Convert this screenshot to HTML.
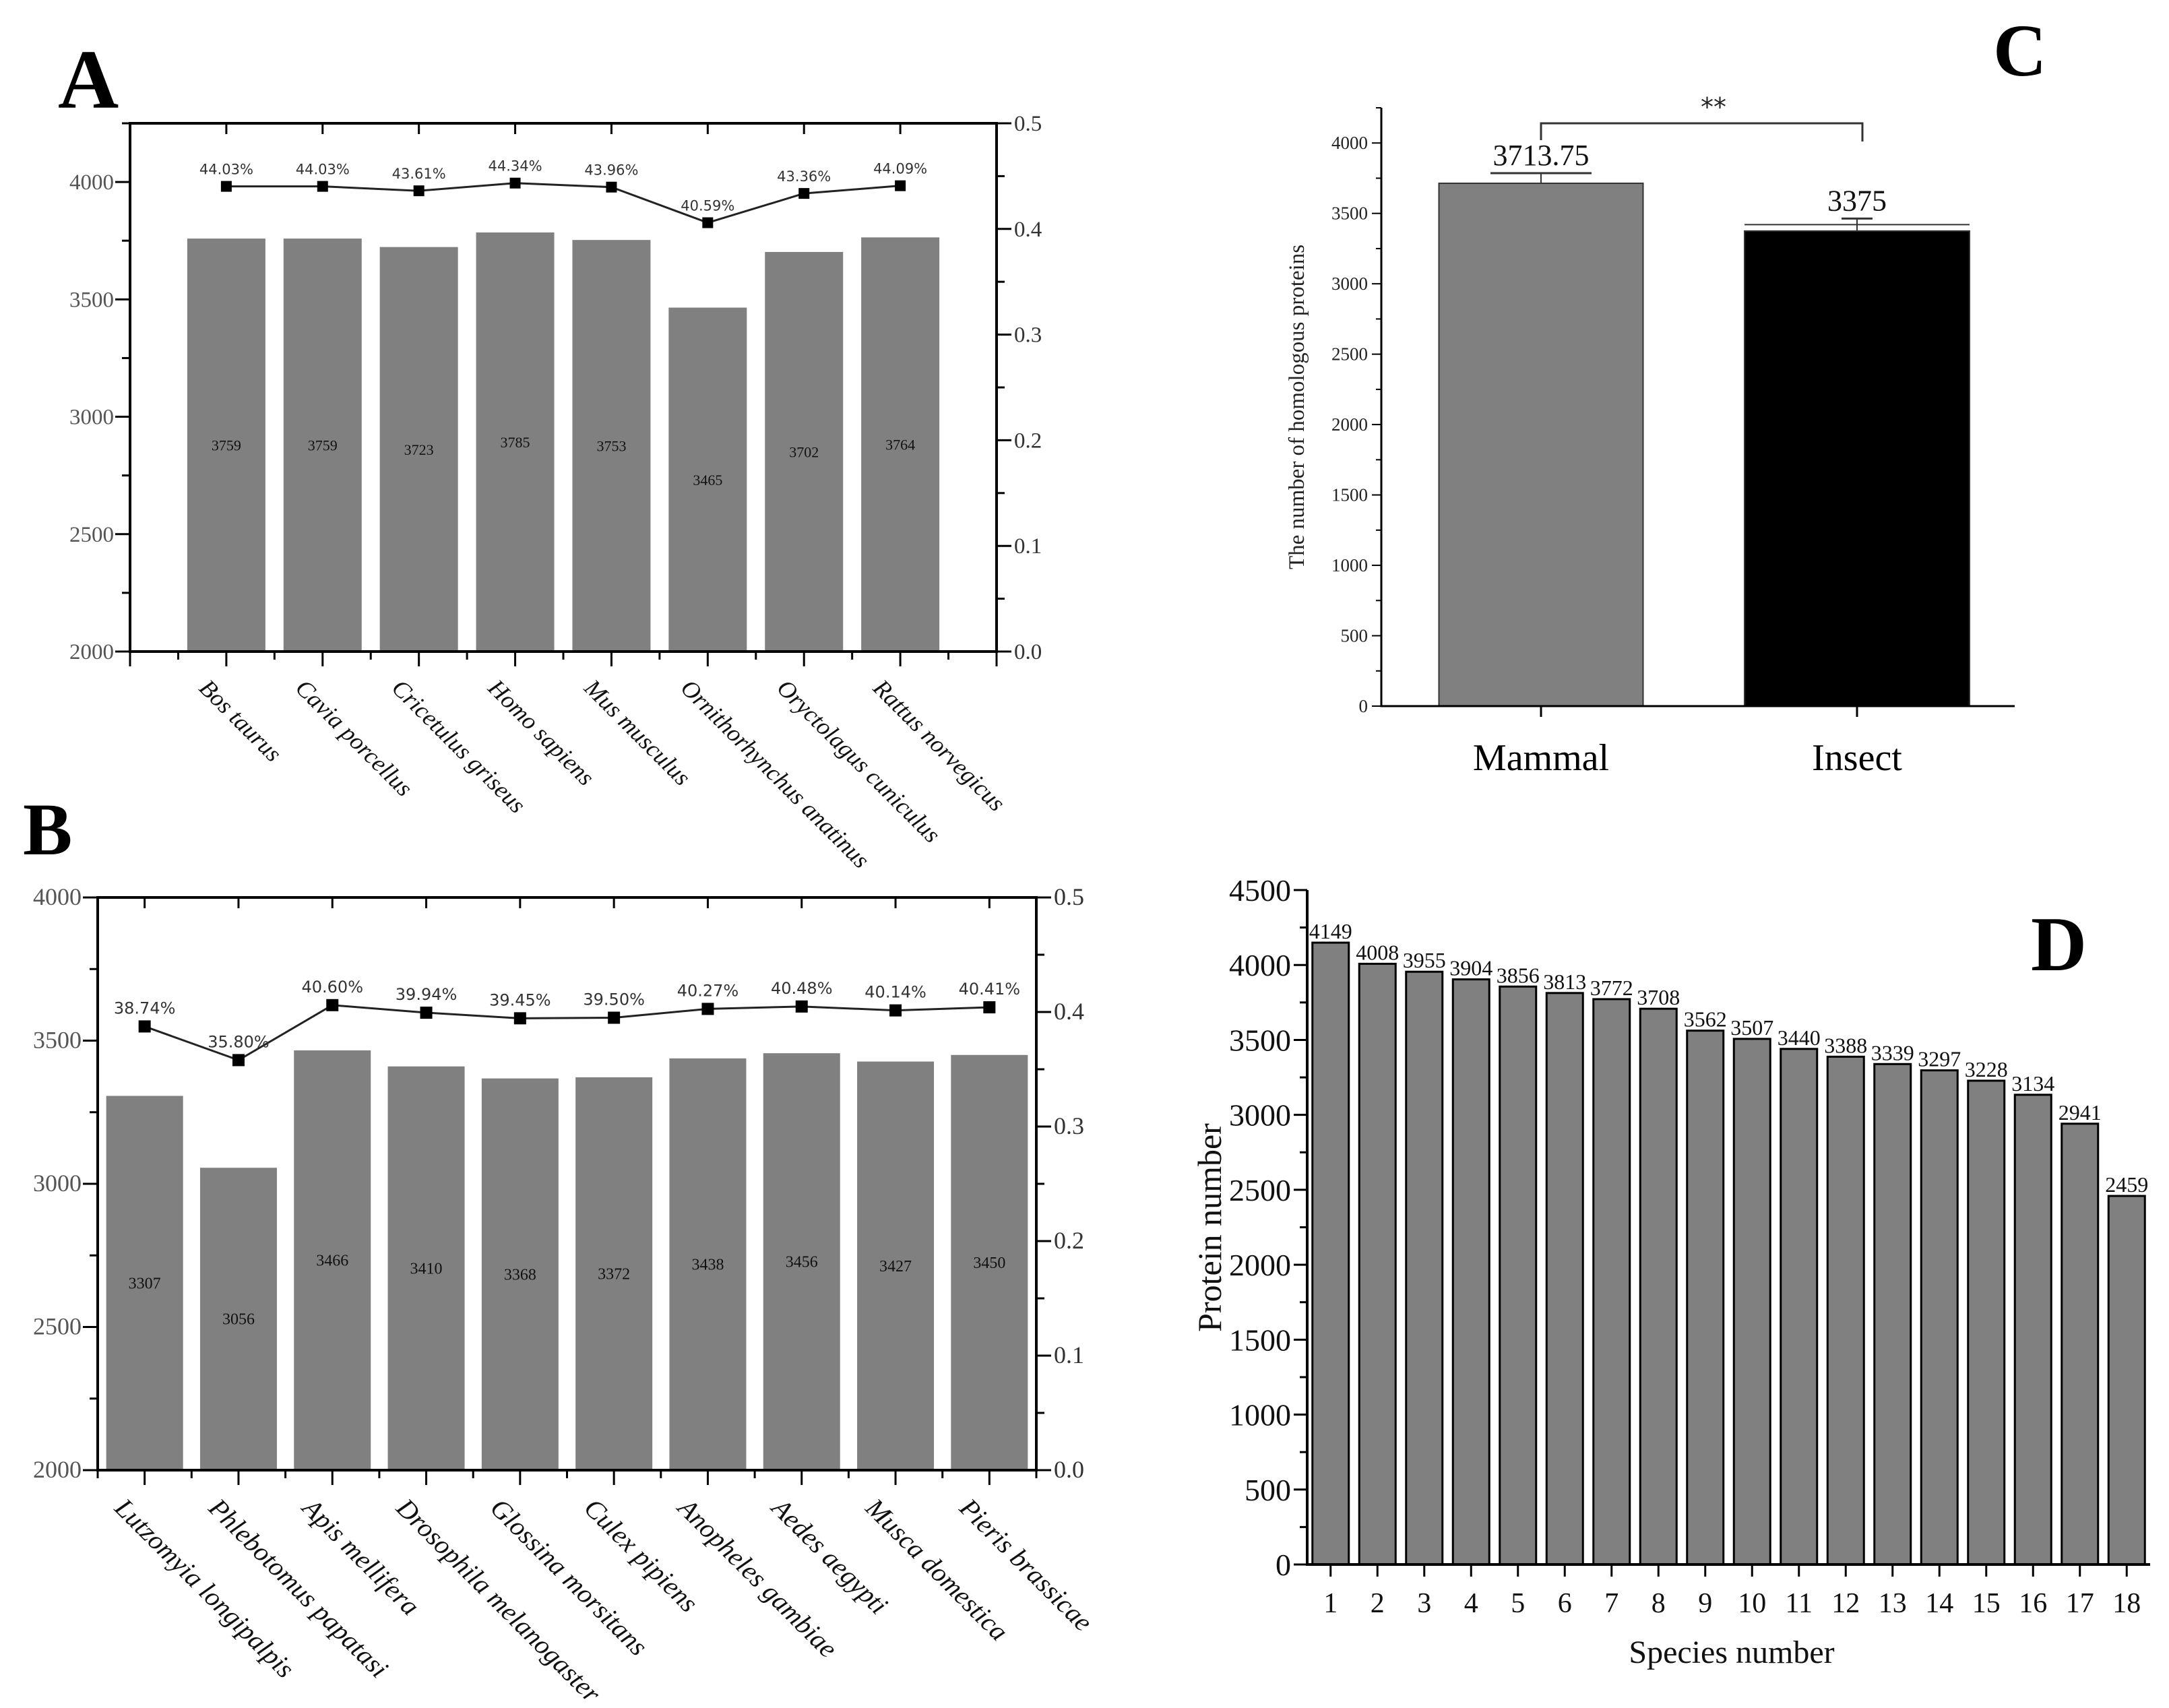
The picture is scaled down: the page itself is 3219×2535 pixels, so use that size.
<!DOCTYPE html>
<html><head><meta charset="utf-8"><style>
html,body{margin:0;padding:0;background:#fff;}
svg{display:block;}
</style></head>
<body>
<svg id="fig" xmlns="http://www.w3.org/2000/svg" width="3219" height="2535" viewBox="0 0 3219 2535">
<rect x="0" y="0" width="3219" height="2535" fill="#fff"/>
<text x="86" y="160" font-family="Liberation Serif, serif" font-weight="bold" font-size="125">A</text>
<text x="34" y="1268" font-family="Liberation Serif, serif" font-weight="bold" font-size="110">B</text>
<text x="2958" y="112" font-family="Liberation Serif, serif" font-weight="bold" font-size="110">C</text>
<text x="3014" y="1440" font-family="Liberation Serif, serif" font-weight="bold" font-size="115">D</text>
</svg>
<script>
const catsA = ["Bos taurus","Cavia porcellus","Cricetulus griseus","Homo sapiens","Mus musculus","Ornithorhynchus anatinus","Oryctolagus cuniculus","Rattus norvegicus"];
const valsA = [3759,3759,3723,3785,3753,3465,3702,3764];
const pctA = [44.03,44.03,43.61,44.34,43.96,40.59,43.36,44.09];
const leftTicksA = [2000,2500,3000,3500,4000];
const rightTicksAB = [0.0,0.1,0.2,0.3,0.4,0.5];

const catsB = ["Lutzomyia longipalpis","Phlebotomus papatasi","Apis mellifera","Drosophila melanogaster","Glossina morsitans","Culex pipiens","Anopheles gambiae","Aedes aegypti","Musca domestica","Pieris brassicae"];
const valsB = [3307,3056,3466,3410,3368,3372,3438,3456,3427,3450];
const pctB = [38.74,35.80,40.60,39.94,39.45,39.50,40.27,40.48,40.14,40.41];
const leftTicksB = [2000,2500,3000,3500,4000];

const catsC = ["Mammal","Insect"];
const valsC = [3713.75,3375];
const errC = [72,88];
const labelsC = ["3713.75","3375"];
const ticksC = [0,500,1000,1500,2000,2500,3000,3500,4000];

const catsD = ["1","2","3","4","5","6","7","8","9","10","11","12","13","14","15","16","17","18"];
const valsD = [4149,4008,3955,3904,3856,3813,3772,3708,3562,3507,3440,3388,3339,3297,3228,3134,2941,2459];
const ticksD = [0,500,1000,1500,2000,2500,3000,3500,4000,4500];

const svg = document.getElementById('fig');
const NS = 'http://www.w3.org/2000/svg';
function mk(tag, attrs, txt){
  const e = document.createElementNS(NS, tag);
  for (const k in attrs) e.setAttribute(k, attrs[k]);
  if (txt !== undefined) e.textContent = txt;
  svg.appendChild(e);
  return e;
}
function line(x1,y1,x2,y2,w,c){
  return mk('line',{x1:x1,y1:y1,x2:x2,y2:y2,stroke:c||'#000','stroke-width':w||3});
}
const SERIF = 'Liberation Serif, serif';
const SANS = 'DejaVu Sans, Liberation Sans, sans-serif';

function dualPanel(p){
  const xs = i => p.x0 + (i + p.off) * p.slot;
  const yL = v => p.y1 - (v - p.lmin) / (p.lmax - p.lmin) * (p.y1 - p.y0);
  const yR = v => p.y1 - v / 0.5 * (p.y1 - p.y0);
  p.vals.forEach((v,i)=>{
    const b = mk('rect',{x:xs(i)-p.bw/2, y:yL(v), width:p.bw, height:p.y1-yL(v), fill:'#808080'});
    
    
    const t = mk('text',{x:xs(i), y:yL((v+p.lmin)/2)+8, 'text-anchor':'middle', 'font-family':SERIF, 'font-size':p.vfs, fill:'#111'}, String(v));
    
    
  });
  const box = mk('rect',{x:p.x0,y:p.y0,width:p.x1-p.x0,height:p.y1-p.y0,fill:'none',stroke:'#000','stroke-width':4});
  
  
  for (let v=p.lmin; v<=p.lmax+1; v+=250){
    const major = (v % 500) === 0;
    line(p.x0 - (major?22:12), yL(v), p.x0, yL(v), 3);
  }
  p.lticks.forEach(v=>{
    const t = mk('text',{x:p.x0-24, y:yL(v)+11, 'text-anchor':'end','font-family':SERIF,'font-size':p.tfs,fill:'#555'}, String(v));
    
    
  });
  for (let k=0;k<=10;k++){
    const v = k*0.05;
    const major = k%2===0;
    line(p.x1, yR(v), p.x1 + (major?22:12), yR(v), 3);
  }
  p.rticks.forEach(v=>{
    const t = mk('text',{x:p.x1+26, y:yR(v)+11,'font-family':SERIF,'font-size':p.tfs,fill:'#333'}, v.toFixed(1));
    
    
  });
  for (let k=0;k<=p.nslots*2;k++){
    const x = p.x0 + k*p.slot/2;
    const isCat = Math.abs(((k/2) - p.off) - Math.round((k/2) - p.off)) < 0.01;
    line(x, p.y1, x, p.y1 + (isCat?22:12), 3);
    if (isCat) line(x, p.y0, x, p.y0 + 16, 3);
  }
  p.cats.forEach((c,i)=>{
    const x = xs(i) - p.lblDx, y = p.y1 + p.lblDy;
    const t = mk('text',{x:x, y:y, transform:'rotate(45 '+x+' '+y+')','font-family':SERIF,'font-style':'italic','font-size':p.cfs,fill:'#111','dominant-baseline':'hanging'}, c);
    
    
  });
  const pts = p.pct.map((v,i)=> xs(i)+','+yR(v/100)).join(' ');
  const pl = mk('polyline',{points:pts, fill:'none', stroke:'#222','stroke-width':3});
  
  
  p.pct.forEach((v,i)=>{
    const m = mk('rect',{x:xs(i)-p.ms/2, y:yR(v/100)-p.ms/2, width:p.ms, height:p.ms, fill:'#000'});
    
    
    const t = mk('text',{x:xs(i), y:yR(v/100)-p.ms/2-10,'text-anchor':'middle','font-family':SANS,'font-size':p.pfs,fill:'#333'}, v.toFixed(2)+'%');
    
    
  });
}

dualPanel({id:'panel-a', x0:193, x1:1479, y0:183, y1:967, lmin:2000, lmax:4250, slot:(1479-193)/9, off:1, nslots:9, bw:116,
  vals:valsA, pct:pctA, cats:catsA, lticks:leftTicksA, rticks:rightTicksAB, vfs:22, tfs:33, cfs:36, pfs:21, ms:16, lblDx:24, lblDy:38});
dualPanel({id:'panel-b', x0:145, x1:1538, y0:1332, y1:2182, lmin:2000, lmax:4000, slot:(1538-145)/10, off:0.5, nslots:10, bw:114,
  vals:valsB, pct:pctB, cats:catsB, lticks:leftTicksB, rticks:rightTicksAB, vfs:24, tfs:36, cfs:40, pfs:24, ms:18, lblDx:26, lblDy:38});

(function(){
  const x0=2050, x1=2990, y0=160, y1=1048, ymax=4250;
  const yC = v => y1 - v/ymax*(y1-y0);
  const centers = [2287, 2756];
  const widths = [303, 334];
  const fills = ['#808080','#000'];
  valsC.forEach((v,i)=>{
    const b = mk('rect',{x:centers[i]-widths[i]/2, y:yC(v), width:widths[i], height:y1-yC(v), fill:fills[i], stroke:'#333','stroke-width':2});
    
    
    const top = yC(v+errC[i]);
    line(centers[i], yC(v), centers[i], top, 2, '#333');
    const cw = i===0 ? 150 : 46;
    line(centers[i]-cw/2, top, centers[i]+cw/2, top, 3, '#333');
    const t = mk('text',{x:centers[i], y:top-12,'text-anchor':'middle','font-family':SERIF,'font-size':44,fill:'#111'}, labelsC[i]);
    
    
    const xl = mk('text',{x:centers[i], y:1143,'text-anchor':'middle','font-family':SERIF,'font-size':56,fill:'#000'}, catsC[i]);
    
    
    line(centers[i], y1, centers[i], y1+16, 3);
  });
  line(centers[1]-widths[1]/2, yC(3420), centers[1]+widths[1]/2, yC(3420), 2, '#333');
  const ax = mk('path',{d:'M'+x0+' '+y0+' L'+x0+' '+y1+' L'+x1+' '+y1, fill:'none', stroke:'#000','stroke-width':3});
  
  
  for (let v=0; v<=4250; v+=250){
    const major = v%500===0;
    line(x0-(major?14:8), yC(v), x0, yC(v), 2);
  }
  ticksC.forEach(v=>{
    const t = mk('text',{x:x0-20, y:yC(v)+9,'text-anchor':'end','font-family':SERIF,'font-size':27,fill:'#222'}, String(v));
    
    
  });
  const yt = mk('text',{x:1935, y:604, transform:'rotate(-90 1935 604)','text-anchor':'middle','font-family':SERIF,'font-size':33,fill:'#222'}, 'The number of homologous proteins');
  
  
  const br = mk('path',{d:'M2287 208 L2287 183 L2764 183 L2764 210', fill:'none', stroke:'#333','stroke-width':3});
  
  
  const st = mk('text',{x:2543, y:172,'text-anchor':'middle','font-family':SANS,'font-size':38,fill:'#222'}, '**');
  
  
})();

(function(){
  const x0=1940, y0=1321, y1=2322, ymax=4500, slot=69.5;
  const x1 = x0 + slot*catsD.length;
  const yD = v => y1 - v/ymax*(y1-y0);
  const xD = i => x0 + (i+0.5)*slot;
  valsD.forEach((v,i)=>{
    const b = mk('rect',{x:xD(i)-27, y:yD(v), width:54, height:y1-yD(v), fill:'#808080', stroke:'#000','stroke-width':3});
    
    
    const t = mk('text',{x:xD(i), y:yD(v)-6,'text-anchor':'middle','font-family':SERIF,'font-size':32,fill:'#111'}, String(v));
    
    
    line(xD(i), y1, xD(i), y1+18, 3);
    const xl = mk('text',{x:xD(i), y:2393,'text-anchor':'middle','font-family':SERIF,'font-size':42,fill:'#111'}, catsD[i]);
    
    
  });
  const ax = mk('path',{d:'M'+x0+' '+y0+' L'+x0+' '+y1+' L'+x1+' '+y1, fill:'none', stroke:'#000','stroke-width':4});
  
  
  for (let v=0; v<=4500; v+=250){
    const major = v%500===0;
    line(x0-(major?20:11), yD(v), x0, yD(v), 3);
  }
  ticksD.forEach(v=>{
    const t = mk('text',{x:x0-24, y:yD(v)+16,'text-anchor':'end','font-family':SERIF,'font-size':46,fill:'#111'}, String(v));
    
    
  });
  const xt = mk('text',{x:2570, y:2468,'text-anchor':'middle','font-family':SERIF,'font-size':48,fill:'#111'}, 'Species number');
  
  
  const yt = mk('text',{x:1812, y:1822, transform:'rotate(-90 1812 1822)','text-anchor':'middle','font-family':SERIF,'font-size':50,fill:'#111'}, 'Protein number');
  
  
})();
</script>
</body></html>
